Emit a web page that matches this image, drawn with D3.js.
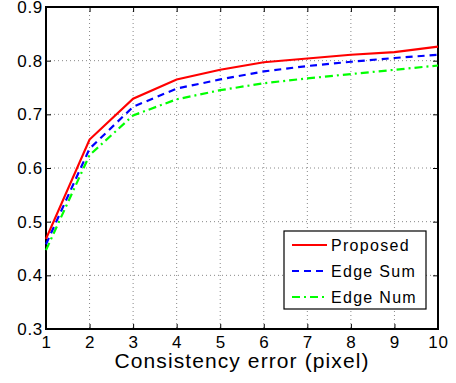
<!DOCTYPE html>
<html>
<head>
<meta charset="utf-8">
<script src="https://cdn.jsdelivr.net/npm/d3@7"></script>
<style>
  body { margin: 0; background: #fff; }
  text { font-family: "Liberation Sans", Arial, sans-serif; }
</style>
</head>
<body>
<svg id="chart" width="456" height="383"></svg>
<script>
// values
const errors = [1, 2, 3, 4, 5, 6, 7, 8, 9, 10];
const proposed = [0.468, 0.653, 0.729, 0.765, 0.783, 0.797, 0.804, 0.811, 0.816, 0.826];
const edgeSum  = [0.458, 0.636, 0.714, 0.748, 0.765, 0.780, 0.790, 0.798, 0.805, 0.811];
const edgeNum  = [0.447, 0.624, 0.698, 0.728, 0.745, 0.758, 0.767, 0.775, 0.783, 0.791];
const xTicks = [1, 2, 3, 4, 5, 6, 7, 8, 9, 10];
const yTicks = [0.3, 0.4, 0.5, 0.6, 0.7, 0.8, 0.9];

const series = [
  {name: 'Proposed', values: proposed, color: '#ff0000', dash: null},
  {name: 'Edge Sum', values: edgeSum, color: '#0000ff', dash: '7,5'},
  {name: 'Edge Num', values: edgeNum, color: '#00ff00', dash: '8,4,2,4'}
];

const plotL = 46, plotR = 438, plotT = 7, plotB = 329;

const svg = d3.select('#chart');

const x = d3.scaleLinear().domain([1, 10]).range([plotL, plotR]);
const y = d3.scaleLinear().domain([0.3, 0.9]).range([plotB, plotT]);

// grid
svg.append('g')
  .selectAll('line')
  .data(xTicks.slice(1, -1))
  .join('line')
  .attr('x1', d => x(d)).attr('x2', d => x(d))
  .attr('y1', plotT).attr('y2', plotB)
  .attr('stroke', '#888').attr('stroke-width', 1)
  .attr('stroke-dasharray', '1,3');

svg.append('g')
  .selectAll('line')
  .data(yTicks.slice(1, -1))
  .join('line')
  .attr('x1', plotL).attr('x2', plotR)
  .attr('y1', d => y(d)).attr('y2', d => y(d))
  .attr('stroke', '#888').attr('stroke-width', 1)
  .attr('stroke-dasharray', '1,3');

// axes, ticks inside
const xAxis = svg.append('g')
  .attr('transform', `translate(0,${plotB})`)
  .call(d3.axisBottom(x).tickValues(xTicks).tickSize(-5).tickPadding(7).tickFormat(d3.format('d')));
const xTop = svg.append('g')
  .attr('transform', `translate(0,${plotT})`)
  .call(d3.axisTop(x).tickValues(xTicks).tickSize(-5).tickFormat(''));
const yAxis = svg.append('g')
  .attr('transform', `translate(${plotL},0)`)
  .call(d3.axisLeft(y).tickValues(yTicks).tickSize(-5).tickPadding(3).tickFormat(d3.format('.1f')));
const yRight = svg.append('g')
  .attr('transform', `translate(${plotR},0)`)
  .call(d3.axisRight(y).tickValues(yTicks).tickSize(-5).tickFormat(''));

[xAxis, xTop, yAxis, yRight].forEach(g => {
  g.select('.domain').remove();
  g.selectAll('.tick line').attr('stroke', '#000').attr('stroke-width', 1);
  g.selectAll('text').attr('font-size', '17px').attr('fill', '#000')
    .attr('letter-spacing', '0.7px')
    .attr('font-family', '"Liberation Sans", Arial, sans-serif');
});

svg.append('rect')
  .attr('x', plotL).attr('y', plotT)
  .attr('width', plotR - plotL).attr('height', plotB - plotT)
  .attr('fill', 'none').attr('stroke', '#000').attr('stroke-width', 2);

// lines
const line = d3.line()
  .x((d, i) => x(errors[i]))
  .y(d => y(d));

svg.append('g')
  .selectAll('path')
  .data(series.slice().reverse())
  .join('path')
  .attr('d', d => line(d.values))
  .attr('fill', 'none')
  .attr('stroke', d => d.color)
  .attr('stroke-width', 2.2)
  .attr('stroke-dasharray', d => d.dash);

// x label
svg.append('text')
  .text('Consistency error (pixel)')
  .attr('x', (plotL + plotR) / 2)
  .attr('y', 368)
  .attr('text-anchor', 'middle')
  .attr('letter-spacing', '1.1px')
  .attr('font-size', '21px');

// legend
const legend = svg.append('g');
legend.append('rect')
  .attr('x', 284).attr('y', 231)
  .attr('width', 142).attr('height', 78)
  .attr('fill', '#fff').attr('stroke', '#000').attr('stroke-width', 1.2);

const items = legend.selectAll('g.item')
  .data(series)
  .join('g')
  .attr('class', 'item')
  .attr('transform', (d, i) => `translate(0,${245 + i * 26})`);

items.append('line')
  .attr('x1', 292).attr('x2', 327)
  .attr('y1', 0).attr('y2', 0)
  .attr('stroke', d => d.color)
  .attr('stroke-width', 2.2)
  .attr('stroke-dasharray', d => d.dash);

items.append('text')
  .text(d => d.name)
  .attr('x', 331)
  .attr('y', 6)
  .attr('letter-spacing', '1.3px')
  .attr('font-size', '16px');
</script>
</body>
</html>
